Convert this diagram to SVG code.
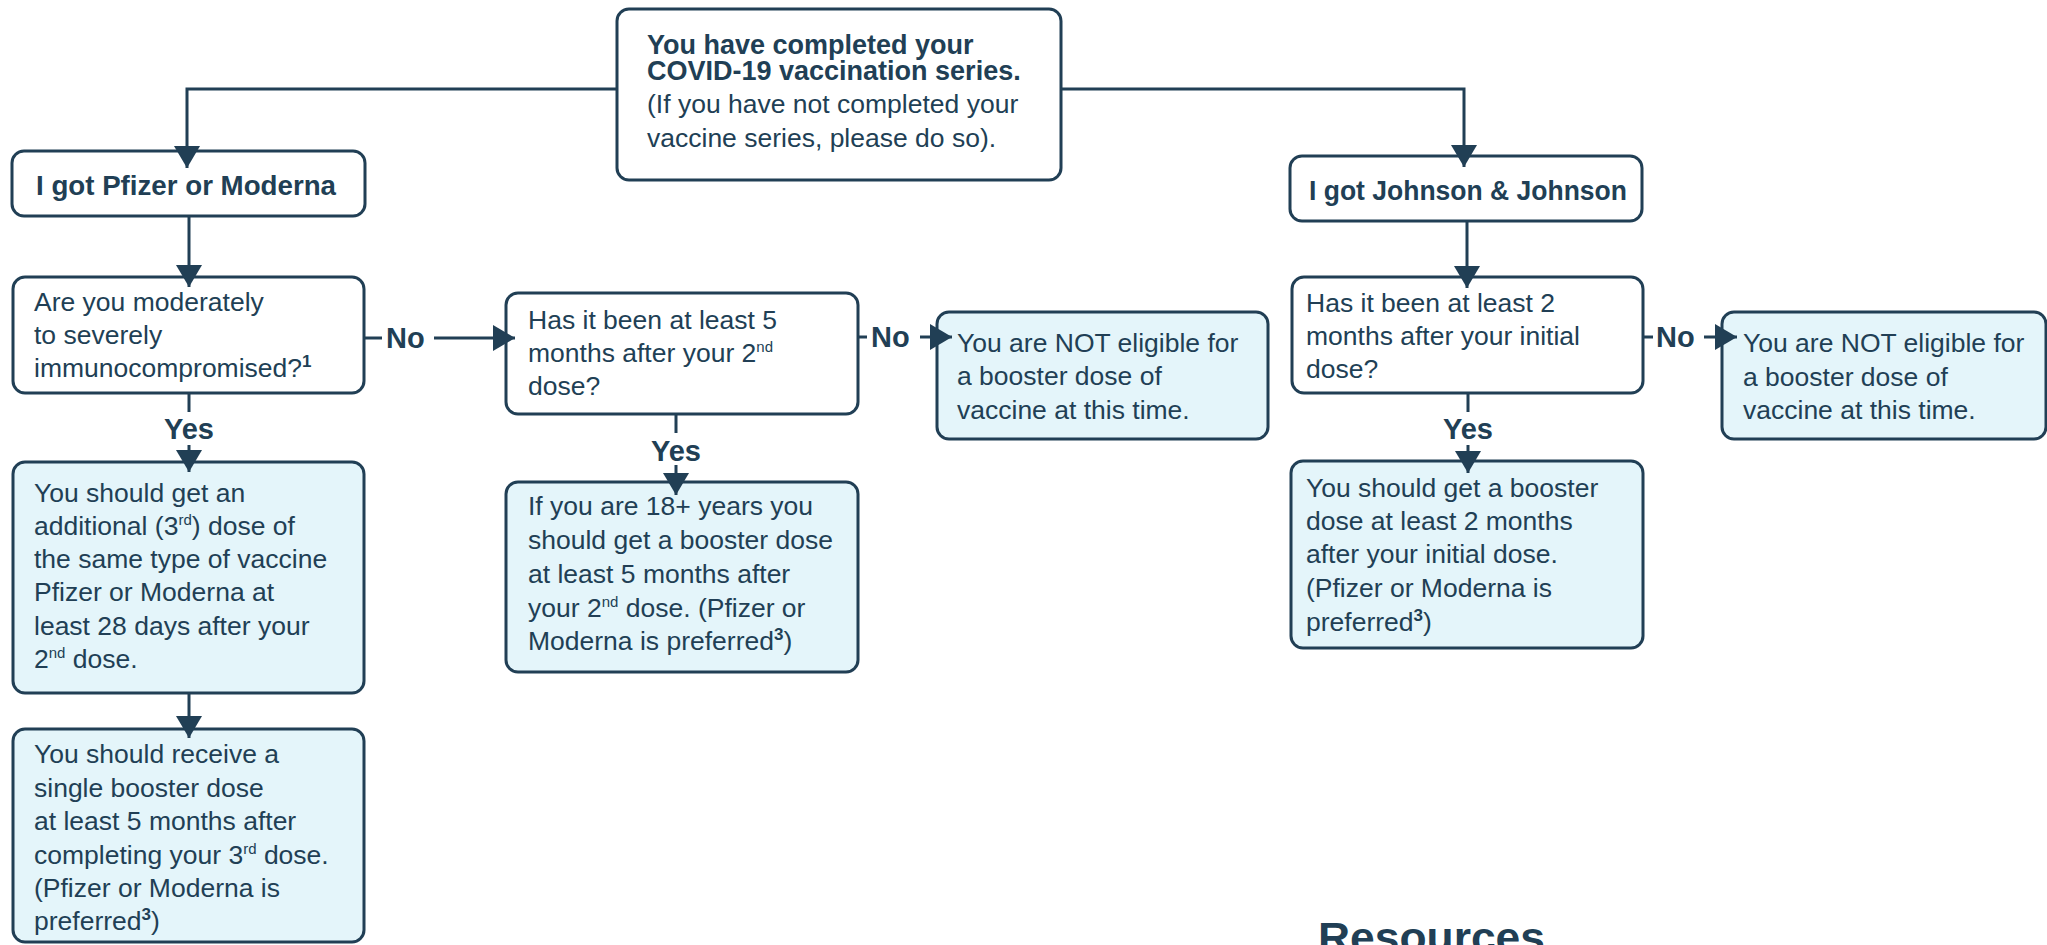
<svg xmlns="http://www.w3.org/2000/svg" width="2047" height="945" viewBox="0 0 2047 945">
<style>
.box{fill:#ffffff;stroke:#213f55;stroke-width:3}
.ans{fill:#e4f5fa;stroke:#213f55;stroke-width:3}
.t{font-family:"Liberation Sans",Arial,sans-serif;font-size:26.5px;fill:#213f55}
.h{font-family:"Liberation Sans",Arial,sans-serif;font-size:27px;font-weight:bold;fill:#213f55}
.lbl{font-family:"Liberation Sans",Arial,sans-serif;font-size:29px;font-weight:bold;fill:#213f55}
.sup{font-size:15px}
.supb{font-size:17px;font-weight:bold}
.c{fill:none;stroke:#213f55;stroke-width:3}
</style>
<defs>
<marker id="arr" viewBox="0 0 22 26" refX="22" refY="13" markerWidth="22" markerHeight="26" markerUnits="userSpaceOnUse" orient="auto">
<path d="M0,0 L22,13 L0,26 Z" fill="#213f55"/>
</marker>
</defs>
<rect width="2047" height="945" fill="#ffffff"/>

<g id="start">
<rect class="box" x="617" y="9" width="444" height="171" rx="12"/>
<text class="h" x="647" y="54">You have completed your</text>
<text class="h" x="647" y="80">COVID-19 vaccination series.</text>
<text class="t" x="647" y="113">(If you have not completed your</text>
<text class="t" x="647" y="147">vaccine series, please do so).</text>
</g>

<g id="pfizer">
<rect class="box" x="12" y="151" width="353" height="65" rx="12"/>
<text class="h" x="36" y="195" textLength="300" lengthAdjust="spacingAndGlyphs">I got Pfizer or Moderna</text>
</g>

<g id="jj">
<rect class="box" x="1290" y="156" width="352" height="65" rx="12"/>
<text class="h" x="1309" y="200" textLength="318" lengthAdjust="spacingAndGlyphs">I got Johnson &amp; Johnson</text>
</g>

<g id="q-immuno">
<rect class="box" x="13" y="277" width="351" height="116" rx="12"/>
<text class="t" x="34" y="311">Are you moderately</text>
<text class="t" x="34" y="344">to severely</text>
<text class="t" x="34" y="377">immunocompromised?<tspan class="supb" dy="-10">1</tspan></text>
</g>

<g id="q-5months">
<rect class="box" x="506" y="293" width="352" height="121" rx="12"/>
<text class="t" x="528" y="329">Has it been at least 5</text>
<text class="t" x="528" y="362">months after your 2<tspan class="sup" dy="-10">nd</tspan></text>
<text class="t" x="528" y="395">dose?</text>
</g>

<g id="not-eligible-1">
<rect class="ans" x="937" y="312" width="331" height="127" rx="12"/>
<text class="t" x="957" y="352">You are NOT eligible for</text>
<text class="t" x="957" y="385">a booster dose of</text>
<text class="t" x="957" y="419">vaccine at this time.</text>
</g>

<g id="q-2months">
<rect class="box" x="1292" y="277" width="351" height="116" rx="12"/>
<text class="t" x="1306" y="312">Has it been at least 2</text>
<text class="t" x="1306" y="345">months after your initial</text>
<text class="t" x="1306" y="378">dose?</text>
</g>

<g id="not-eligible-2">
<rect class="ans" x="1722" y="312" width="324" height="127" rx="12"/>
<text class="t" x="1743" y="352">You are NOT eligible for</text>
<text class="t" x="1743" y="386">a booster dose of</text>
<text class="t" x="1743" y="419">vaccine at this time.</text>
</g>

<g id="a-additional">
<rect class="ans" x="13" y="462" width="351" height="231" rx="12"/>
<text class="t" x="34" y="502">You should get an</text>
<text class="t" x="34" y="535">additional (3<tspan class="sup" dy="-10">rd</tspan><tspan dy="10">) dose of</tspan></text>
<text class="t" x="34" y="568">the same type of vaccine</text>
<text class="t" x="34" y="601">Pfizer or Moderna at</text>
<text class="t" x="34" y="635">least 28 days after your</text>
<text class="t" x="34" y="668">2<tspan class="sup" dy="-10">nd</tspan><tspan dy="10"> dose.</tspan></text>
</g>

<g id="a-18plus">
<rect class="ans" x="506" y="482" width="352" height="190" rx="12"/>
<text class="t" x="528" y="515">If you are 18+ years you</text>
<text class="t" x="528" y="549">should get a booster dose</text>
<text class="t" x="528" y="583">at least 5 months after</text>
<text class="t" x="528" y="617">your 2<tspan class="sup" dy="-10">nd</tspan><tspan dy="10"> dose. (Pfizer or</tspan></text>
<text class="t" x="528" y="650">Moderna is preferred<tspan class="supb" dy="-10">3</tspan><tspan dy="10">)</tspan></text>
</g>

<g id="a-jj-booster">
<rect class="ans" x="1291" y="461" width="352" height="187" rx="12"/>
<text class="t" x="1306" y="497">You should get a booster</text>
<text class="t" x="1306" y="530">dose at least 2 months</text>
<text class="t" x="1306" y="563">after your initial dose.</text>
<text class="t" x="1306" y="597">(Pfizer or Moderna is</text>
<text class="t" x="1306" y="631">preferred<tspan class="supb" dy="-10">3</tspan><tspan dy="10">)</tspan></text>
</g>

<g id="a-single-booster">
<rect class="ans" x="13" y="729" width="351" height="213" rx="12"/>
<text class="t" x="34" y="763">You should receive a</text>
<text class="t" x="34" y="797">single booster dose</text>
<text class="t" x="34" y="830">at least 5 months after</text>
<text class="t" x="34" y="864">completing your 3<tspan class="sup" dy="-10">rd</tspan><tspan dy="10"> dose.</tspan></text>
<text class="t" x="34" y="897">(Pfizer or Moderna is</text>
<text class="t" x="34" y="930">preferred<tspan class="supb" dy="-10">3</tspan><tspan dy="10">)</tspan></text>
</g>

<g id="resources">
<text x="1318" y="952" font-family="'Liberation Sans',Arial,sans-serif" font-size="42" font-weight="bold" fill="#213f55" textLength="227" lengthAdjust="spacingAndGlyphs">Resources</text>
</g>

<g id="connectors">
<path class="c" d="M617,89 H187 V168" marker-end="url(#arr)"/>
<path class="c" d="M1061,89 H1464 V167" marker-end="url(#arr)"/>
<path class="c" d="M189,216 V287" marker-end="url(#arr)"/>
<path class="c" d="M1467,221 V288" marker-end="url(#arr)"/>
<path class="c" d="M364,338 H382"/>
<text class="lbl" x="386" y="348">No</text>
<path class="c" d="M434,338 H515" marker-end="url(#arr)"/>
<path class="c" d="M858,337 H867"/>
<text class="lbl" x="871" y="347">No</text>
<path class="c" d="M920,337 H952" marker-end="url(#arr)"/>
<path class="c" d="M1643,337 H1653"/>
<text class="lbl" x="1656" y="347">No</text>
<path class="c" d="M1704,337 H1737" marker-end="url(#arr)"/>
<path class="c" d="M189,393 V412"/>
<text class="lbl" x="189" y="439" text-anchor="middle">Yes</text>
<path class="c" d="M189,445 V472" marker-end="url(#arr)"/>
<path class="c" d="M676,414 V433"/>
<text class="lbl" x="676" y="461" text-anchor="middle">Yes</text>
<path class="c" d="M676,465 V495" marker-end="url(#arr)"/>
<path class="c" d="M1468,393 V412"/>
<text class="lbl" x="1468" y="439" text-anchor="middle">Yes</text>
<path class="c" d="M1468,445 V473" marker-end="url(#arr)"/>
<path class="c" d="M189,693 V738" marker-end="url(#arr)"/>
</g>
</svg>
